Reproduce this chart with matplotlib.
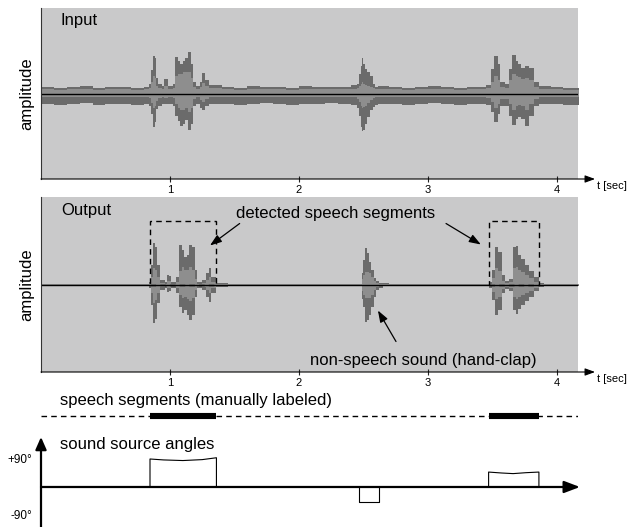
#!/usr/bin/env python3
"""
Sound-source localisation figure: input waveform, VAD output waveform,
manually labelled speech segments and estimated source angles.
"""
import matplotlib
matplotlib.use("Agg")
import matplotlib.pyplot as plt

plt.rcParams["font.family"] = ["Liberation Sans", "DejaVu Sans"]

# --- input waveform envelope (time in s, amplitude in arbitrary units) ---
in_t = [0.00, 0.10, 0.20, 0.30, 0.40, 0.50, 0.60, 0.70, 0.80,
        0.84, 0.855, 0.865, 0.88, 0.89, 0.91, 0.94, 0.955, 0.975, 0.985,
        1.02, 1.04, 1.06, 1.08, 1.10, 1.12, 1.14, 1.16, 1.175, 1.20,
        1.23, 1.25, 1.27, 1.30,
        1.40, 1.50, 1.60, 1.70, 1.80, 1.90, 2.00, 2.10, 2.20, 2.30,
        2.40, 2.45, 2.465, 2.48, 2.488, 2.50, 2.51, 2.53, 2.55, 2.57, 2.59, 2.61,
        2.70, 2.80, 2.90, 3.00, 3.10, 3.20, 3.30, 3.40,
        3.45, 3.49, 3.515, 3.54, 3.56, 3.60, 3.63, 3.65, 3.68, 3.70,
        3.72, 3.75, 3.78, 3.82, 3.86,
        3.95, 4.05, 4.17]
in_up = [7, 6, 7, 8, 6, 7, 7, 6, 7,
         10, 24, 38, 36, 16, 10, 8, 15, 15, 8,
         10, 37, 33, 30, 33, 36, 42, 30, 12, 8,
         12, 21, 14, 9,
         7, 6, 8, 7, 7, 6, 8, 7, 7, 7,
         9, 10, 20, 28, 36, 30, 25, 22, 18, 10, 7, 8,
         7, 6, 7, 8, 7, 6, 7, 7,
         9, 25, 38, 30, 12, 10, 25, 39, 33, 30,
         26, 28, 26, 12, 8,
         7, 6, 7]
in_lo = [-10, -11, -10, -9, -11, -10, -10, -11, -10,
         -12, -20, -33, -28, -15, -12, -10, -10, -10, -10,
         -12, -22, -27, -32, -30, -26, -36, -30, -12, -10,
         -14, -16, -12, -10,
         -10, -11, -10, -9, -10, -11, -10, -10, -9, -10,
         -11, -14, -22, -33, -37, -36, -30, -23, -16, -13, -11, -10,
         -10, -11, -10, -9, -10, -11, -10, -10,
         -11, -18, -28, -20, -12, -12, -22, -31, -25, -23,
         -25, -32, -22, -12, -10,
         -10, -11, -10]
in_up_in = [5, 4, 5, 5, 4, 5, 5, 4, 5,
            6, 12, 18, 16, 8, 6, 5, 8, 8, 5,
            6, 18, 20, 20, 22, 22, 22, 16, 7, 5,
            7, 11, 8, 6,
            5, 4, 5, 5, 5, 4, 5, 5, 5, 5,
            5, 6, 8, 10, 12, 10, 9, 8, 7, 6, 5, 5,
            5, 4, 5, 5, 5, 4, 5, 5,
            6, 12, 18, 14, 7, 6, 14, 20, 18, 17,
            15, 16, 14, 7, 5,
            5, 4, 5]
in_lo_in = [-3, -3, -3, -3, -3, -3, -3, -3, -3,
            -4, -9, -14, -12, -7, -4, -3, -4, -4, -3,
            -4, -10, -14, -16, -16, -14, -18, -14, -5, -3,
            -6, -8, -5, -3,
            -3, -3, -3, -3, -3, -3, -3, -3, -3, -3,
            -3, -5, -8, -12, -14, -13, -12, -9, -6, -4, -3, -3,
            -3, -3, -3, -3, -3, -3, -3, -3,
            -4, -8, -14, -10, -5, -5, -10, -16, -12, -11,
            -12, -16, -10, -5, -3,
            -3, -3, -3]

# --- output (detected) waveform envelope ---
out_t = [0.00, 0.84, 0.855, 0.87, 0.885, 0.90, 0.92, 0.96, 0.975, 0.99,
         1.01, 1.05, 1.07, 1.09, 1.11, 1.13, 1.15, 1.17, 1.19, 1.21,
         1.25, 1.28, 1.30, 1.32, 1.36, 1.45,
         2.40, 2.49, 2.50, 2.515, 2.53, 2.545, 2.56, 2.58, 2.60, 2.62,
         2.65, 2.70, 2.75,
         3.40, 3.47, 3.50, 3.52, 3.545, 3.57, 3.60, 3.63, 3.66, 3.68,
         3.70, 3.72, 3.75, 3.78, 3.82, 3.86, 3.90, 4.17]
out_up = [1, 3, 20, 42, 38, 20, 5, 3, 10, 9,
          3, 8, 40, 35, 28, 30, 40, 38, 15, 3,
          5, 12, 17, 8, 2, 1,
          1, 12, 25, 37, 32, 23, 15, 7, 4, 2,
          1.5, 1, 1,
          1, 3, 15, 38, 33, 10, 4, 6, 38, 39,
          30, 26, 20, 14, 8, 2, 1, 1]
out_lo = [-1, -3, -20, -38, -34, -18, -5, -3, -7, -6,
          -3, -8, -22, -28, -25, -30, -35, -30, -12, -3,
          -5, -12, -17, -8, -2, -1,
          -1, -14, -22, -37, -35, -30, -22, -12, -5, -3,
          -1.5, -1, -1,
          -1, -3, -15, -30, -25, -8, -4, -6, -25, -29,
          -24, -20, -16, -12, -6, -2, -1, -1]
out_up_in = [0.5, 1, 8, 17, 15, 8, 2, 1, 4, 4,
             1, 3, 14, 18, 15, 15, 18, 15, 6, 1,
             2, 5, 8, 3, 1, 0.5,
             0.5, 6, 10, 13, 13, 12, 8, 4, 2, 1,
             0.7, 0.5, 0.5,
             0.5, 1, 7, 17, 14, 4, 2, 3, 17, 18,
             15, 13, 10, 7, 3, 1, 0.5, 0.5]
out_lo_in = [-0.5, -1, -8, -18, -15, -8, -2, -1, -3, -3,
             -1, -3, -10, -13, -12, -14, -16, -13, -5, -1,
             -2, -5, -8, -3, -1, -0.5,
             -0.5, -6, -10, -13, -13, -13, -10, -5, -2, -1,
             -0.7, -0.5, -0.5,
             -0.5, -1, -7, -14, -12, -4, -2, -3, -12, -14,
             -12, -10, -8, -6, -3, -1, -0.5, -0.5]

# detected and manually labelled speech segments (s)
seg_start = [0.845, 3.47]
seg_end = [1.36, 3.86]

# sound source angles (deg) per segment
ang1_t = [0.845, 0.95, 1.10, 1.25, 1.36]
ang1_deg = [90, 87, 85, 88, 94]
ang2_t = [2.467, 2.617]
ang2_deg = [-48, -48]
ang3_t = [3.47, 3.57, 3.66, 3.76, 3.86]
ang3_deg = [48, 45, 43, 46, 48]

time_ticks = [1, 2, 3, 4]

PANEL = "#c9c9ca"
DARK = "#6b6b6b"
MID = "#8e8e8e"
W, H = 628, 527
T_END = 4.163     # right edge of the grey panels
T_ARROW = 4.295   # tip of the time axis arrow

fig = plt.figure(figsize=(W / 100, H / 100), dpi=100)


def px_axes(x0, y0, x1, y1):
    return fig.add_axes([x0 / W, 1 - y1 / H, (x1 - x0) / W, (y1 - y0) / H])


def wave_panel(rect, t, up, lo, up_in, lo_in, title, half):
    ax = px_axes(*rect)
    ax.set_facecolor(PANEL)
    ax.fill_between(t, lo, up, color=DARK, lw=0, step="post")
    ax.fill_between(t, lo_in, up_in, color=MID, lw=0, step="post")
    ax.axhline(0, color="black", lw=1.0)
    ax.set_xlim(0, T_END)
    ax.set_ylim(-half, half)
    for s in ("top", "right", "bottom"):
        ax.spines[s].set_visible(False)
    ax.spines["left"].set_color("#333333")
    ax.spines["left"].set_linewidth(0.8)
    ax.set_yticks([])
    ax.set_xticks(time_ticks)
    ax.tick_params(axis="x", direction="inout", length=5, width=0.8,
                   labelsize=8, pad=2, color="#222222")
    ax.set_ylabel("amplitude", fontsize=12, labelpad=5)
    ax.annotate("", xy=(T_ARROW, -half), xytext=(0, -half),
                arrowprops=dict(arrowstyle="-|>,head_length=0.6,head_width=0.22",
                                color="black", lw=0.8, shrinkA=0, shrinkB=0),
                annotation_clip=False)
    ax.text(0.037, 1 - 13 / (2 * half), title, transform=ax.transAxes,
            fontsize=12, va="center", ha="left")
    return ax


ax_in = wave_panel((41, 8, 578, 179), in_t, in_up, in_lo, in_up_in, in_lo_in,
                   "Input", 85.5)
fig.text(597 / W, 1 - 186 / H, "t [sec]", fontsize=8, va="center")

ax_out = wave_panel((41, 197, 578, 372), out_t, out_up, out_lo, out_up_in,
                    out_lo_in, "Output", 87.5)
fig.text(597 / W, 1 - 379 / H, "t [sec]", fontsize=8, va="center")

# dashed boxes round the detected speech segments
for t0, t1 in zip(seg_start, seg_end):
    ax_out.add_patch(plt.Rectangle((t0, 0), t1 - t0, 64, fill=False,
                                   ls=(0, (4, 3)), lw=1.0, color="black"))

arrow_kw = dict(arrowstyle="-|>,head_length=0.7,head_width=0.25",
                color="black", lw=0.9, shrinkA=0, shrinkB=0)
ax_out.text(1.51, 71, "detected speech segments", fontsize=12, va="center")
ax_out.annotate("", xy=(1.31, 39), xytext=(1.54, 61), arrowprops=arrow_kw)
ax_out.annotate("", xy=(3.41, 40), xytext=(3.14, 61), arrowprops=arrow_kw)
ax_out.text(2.085, -76, "non-speech sound (hand-clap)", fontsize=12, va="center")
ax_out.annotate("", xy=(2.612, -26), xytext=(2.752, -57), arrowprops=arrow_kw)

# manually labelled segments strip
fig.text(60 / W, 1 - 401 / H, "speech segments (manually labeled)",
         fontsize=12, va="center")
ax_seg = px_axes(41, 405, 578, 427)
ax_seg.axis("off")
ax_seg.set_xlim(0, T_END)
ax_seg.set_ylim(-1, 1)
ax_seg.plot([0, T_END], [0, 0], ls=(0, (4, 3)), color="black", lw=1.0)
ax_seg.hlines([0] * len(seg_start), seg_start, seg_end, color="black",
              lw=4.4, capstyle="butt")

# sound source angles
fig.text(60 / W, 1 - 445 / H, "sound source angles", fontsize=12, va="center")
ax_ang = px_axes(41, 430, 578, 527)
ax_ang.set_xlim(0, T_END)
ax_ang.set_ylim(-128.6, 183.2)
for s in ax_ang.spines.values():
    s.set_visible(False)
ax_ang.set_xticks([])
ax_ang.set_yticks([90, -90])
ax_ang.set_yticklabels(["+90°", "-90°"])
ax_ang.tick_params(axis="y", length=0, labelsize=8.5, pad=6)

for ts, ds in ((ang1_t, ang1_deg), (ang2_t, ang2_deg), (ang3_t, ang3_deg)):
    xs = [ts[0]] + ts + [ts[-1]]
    ys = [0] + ds + [0]
    ax_ang.plot(xs, ys, color="black", lw=0.8)

ax_ang.annotate("", xy=(0, 160.7), xytext=(0, -128.6),
                arrowprops=dict(arrowstyle="-|>,head_length=0.75,head_width=0.33",
                                color="black", lw=1.6, shrinkA=0, shrinkB=0),
                annotation_clip=False)
ax_ang.annotate("", xy=(4.178, 0), xytext=(0, 0),
                arrowprops=dict(arrowstyle="-|>,head_length=0.95,head_width=0.36",
                                color="black", lw=1.6, shrinkA=0, shrinkB=0),
                annotation_clip=False)

fig.savefig("out.png", dpi=100)
